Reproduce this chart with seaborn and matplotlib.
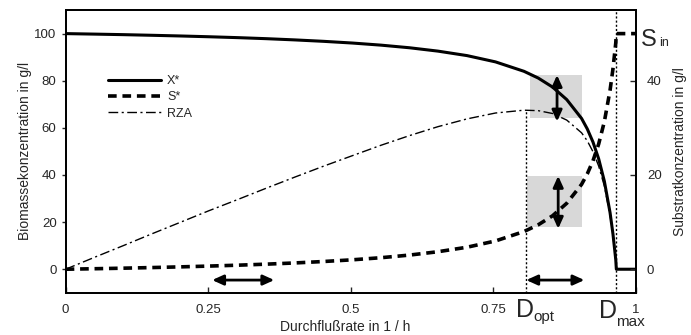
import matplotlib
matplotlib.use("Agg")
import matplotlib.pyplot as plt
import seaborn as sns
from matplotlib.lines import Line2D
from matplotlib.patches import Rectangle

# ---- data ----
D = [0, 0.050, 0.101, 0.151, 0.201, 0.251, 0.302, 0.352, 0.402, 0.452, 0.503,
     0.553, 0.603, 0.653, 0.704, 0.754, 0.804, 0.829, 0.854, 0.879, 0.905,
     0.915, 0.925, 0.935, 0.945, 0.955, 0.960, 0.965, 0.966, 1.0]
X_star = [100, 99.79, 99.56, 99.29, 99.0, 98.67, 98.29, 97.85, 97.33, 96.73, 96.0,
          95.11, 94.0, 92.57, 90.67, 88.0, 84.0, 81.14, 77.33, 72.0, 64.0,
          59.56, 54.0, 46.86, 37.33, 24.0, 15.11, 4.0, 0.0, 0.0]
S_star = [0, 0.105, 0.222, 0.353, 0.5, 0.667, 0.857, 1.077, 1.333, 1.636, 2.0,
          2.444, 3.0, 3.714, 4.667, 6.0, 8.0, 9.429, 11.333, 14.0, 18.0,
          20.22, 23.0, 26.57, 31.33, 38.0, 42.44, 48.0, 50.0, 50.0]
D_rza = D[:-1]
RZA = [0, 5.0, 10.0, 15.0, 19.9, 24.8, 29.6, 34.4, 39.1, 43.7, 48.2,
       52.6, 56.7, 60.5, 63.8, 66.3, 67.5, 67.3, 66.1, 63.3, 57.9,
       54.5, 49.9, 43.8, 35.3, 22.9, 14.5, 3.9, 0.0]

x_ticks = [0, 0.25, 0.5, 0.75, 1]
x_ticklabels = ["0", "0.25", "0.5", "0.75", "1"]
left_ticks = [0, 20, 40, 60, 80, 100]
right_ticks = [0, 20, 40]
D_opt = 0.808
D_max = 0.966
RZA_max = 67.5
S_in = 50

sns.set_theme(style="white")
plt.rcParams["font.family"] = ["Liberation Sans", "DejaVu Sans"]

fig = plt.figure(figsize=(6.91, 3.35), dpi=100)
ax = fig.add_axes([0.095, 0.126, 0.825, 0.844])
ax2 = ax.twinx()

# grey highlight boxes
ax.add_patch(Rectangle((0.815, 64.3), 0.091, 18.1, facecolor="#b8b8b8",
                       alpha=0.55, edgecolor="none", zorder=0))
ax.add_patch(Rectangle((0.809, 18.1), 0.097, 21.4, facecolor="#b8b8b8",
                       alpha=0.55, edgecolor="none", zorder=0))

sns.lineplot(x=D, y=X_star, ax=ax, color="black", linewidth=2.2, zorder=3)
sns.lineplot(x=D_rza, y=RZA, ax=ax, color="black", linewidth=1.0,
             linestyle=(0, (7, 2.5, 1.5, 2.5)), zorder=3)
sns.lineplot(x=D, y=S_star, ax=ax2, color="black", linewidth=2.6,
             linestyle=(0, (2.4, 1.6)), zorder=3)

# marker lines
ax.plot([D_opt, D_opt], [-10, RZA_max], color="black", lw=1.0, ls=(0, (1.5, 1.5)))
ax.plot([D_max, D_max], [-10, 110], color="black", lw=1.0, ls=(0, (1.5, 1.5)))

# arrows
arrow_kw = dict(arrowstyle="<|-|>,head_length=0.55,head_width=0.25", color="black", lw=2.0,
                shrinkA=0, shrinkB=0)
ax.annotate("", xy=(0.257, -4.6), xytext=(0.366, -4.6), arrowprops=arrow_kw)
ax.annotate("", xy=(0.808, -4.6), xytext=(0.910, -4.6), arrowprops=arrow_kw)
ax.annotate("", xy=(0.862, 82.4), xytext=(0.862, 62.7), arrowprops=arrow_kw)
ax.annotate("", xy=(0.864, 39.6), xytext=(0.864, 17.2), arrowprops=arrow_kw)

ax.set_xlim(0, 1)
ax.set_ylim(-10, 110)
ax2.set_ylim(-5, 55)
ax.set_xticks(x_ticks)
ax.set_xticklabels(x_ticklabels)
ax.set_yticks(left_ticks)
ax2.set_yticks(right_ticks)
ax.tick_params(axis="x", direction="in", length=4, width=1, labelsize=9.5, pad=8,
               bottom=True)
ax.tick_params(axis="y", direction="out", length=3, width=1, labelsize=9.5, left=True)
ax2.tick_params(axis="y", direction="in", length=4, width=1, labelsize=9.5, right=True,
                pad=8)
for a in (ax, ax2):
    for s in a.spines.values():
        s.set_color("black")
        s.set_linewidth(1.3)

ax.set_xlabel("Durchflußrate in 1 / h", fontsize=10, labelpad=4)
ax.set_ylabel("Biomassekonzentration in g/l", fontsize=10, labelpad=2)
ax2.set_ylabel("Substratkonzentration in g/l", fontsize=10, labelpad=8)
ax.xaxis.set_label_coords(0.49, -0.095)

# special labels
tr = ax.get_xaxis_transform()
ax.text(0.790, -0.086, "D", transform=tr, fontsize=18, ha="left", va="baseline")
ax.text(0.821, -0.101, "opt", transform=tr, fontsize=11, ha="left", va="baseline")
ax.text(0.936, -0.089, "D", transform=tr, fontsize=18, ha="left", va="baseline")
ax.text(0.965, -0.117, "max", transform=tr, fontsize=11, ha="left", va="baseline")
tr2 = ax2.get_yaxis_transform()
ax2.text(1.009, 47.4, "S", transform=tr2, fontsize=17, ha="left", va="baseline")
ax2.text(1.041, 47.4, "in", transform=tr2, fontsize=9, ha="left", va="baseline")

handles = [Line2D([], [], color="black", lw=2.2),
           Line2D([], [], color="black", lw=2.6, ls=(0, (2.4, 1.6))),
           Line2D([], [], color="black", lw=1.0, ls=(0, (7, 2.5, 1.5, 2.5)))]
ax2.legend(handles, ["X*", "S*", "RZA"], loc="upper left",
           bbox_to_anchor=(0.055, 0.81), frameon=False, fontsize=9,
           handlelength=4.2, labelspacing=0.35, handletextpad=0.5)
ax2.set_zorder(ax.get_zorder() + 1)
ax2.patch.set_visible(False)

fig.savefig("out.png", dpi=100)
